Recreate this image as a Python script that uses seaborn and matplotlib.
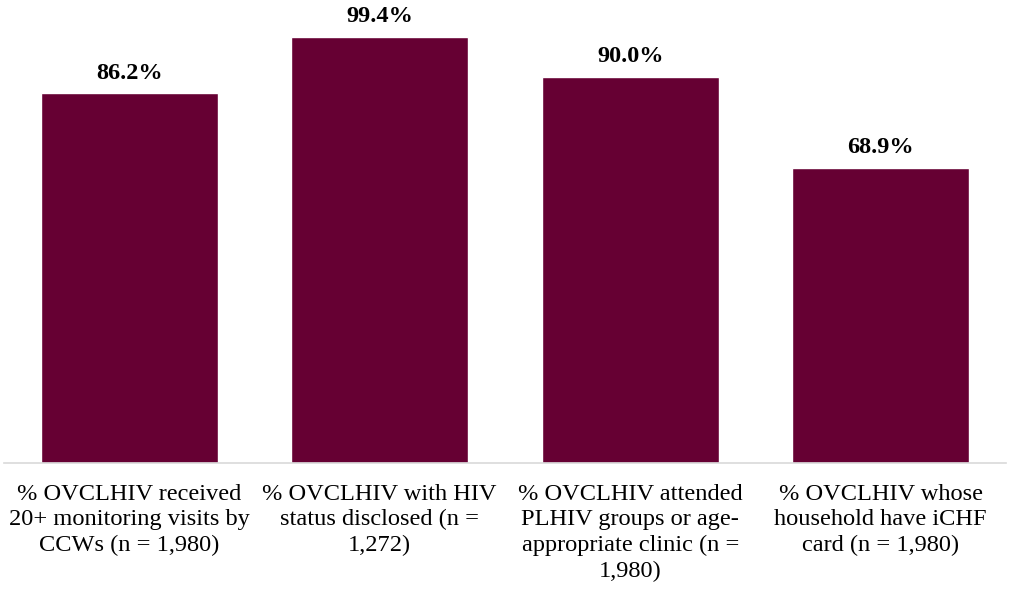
import matplotlib.pyplot as plt
import seaborn as sns
import pandas as pd

# values
categories = ['% OVCLHIV received\n20+ monitoring visits by\nCCWs (n = 1,980)',
              '% OVCLHIV with HIV\nstatus disclosed (n =\n1,272)',
              '% OVCLHIV attended\nPLHIV groups or age-\nappropriate clinic (n =\n1,980)',
              '% OVCLHIV whose\nhousehold have iCHF\ncard (n = 1,980)']
percent = [86.2, 99.4, 90.0, 68.9]

df = pd.DataFrame({'indicator': categories, 'percent': percent})

sns.set_style('white')
plt.rcParams['font.family'] = ['Liberation Serif', 'DejaVu Serif']

fig = plt.figure(figsize=(10.13, 5.98), dpi=100)
ax = fig.add_axes([4 / 1013, 135 / 598, 1002 / 1013, 463 / 598])

sns.barplot(data=df, x='indicator', y='percent', color='#660033',
            saturation=1, width=0.705, ax=ax)

for c in ax.containers:
    ax.bar_label(c, labels=['%.1f%%' % v for v in percent], padding=7,
                 fontsize=17.5, fontweight='bold', color='black')

ax.set(xlabel='', ylabel='', ylim=(0, 108), xlim=(-0.5, 3.5), yticks=[])
ax.tick_params(axis='x', length=0, pad=15, labelsize=17.6, labelcolor='black')
for t in ax.get_xticklabels():
    t.set_linespacing(1.28)
sns.despine(left=True, top=True, right=True)
ax.spines['bottom'].set_color('#d9d9d9')
ax.spines['bottom'].set_linewidth(1.2)

fig.savefig('out.png', dpi=100, facecolor='white')
